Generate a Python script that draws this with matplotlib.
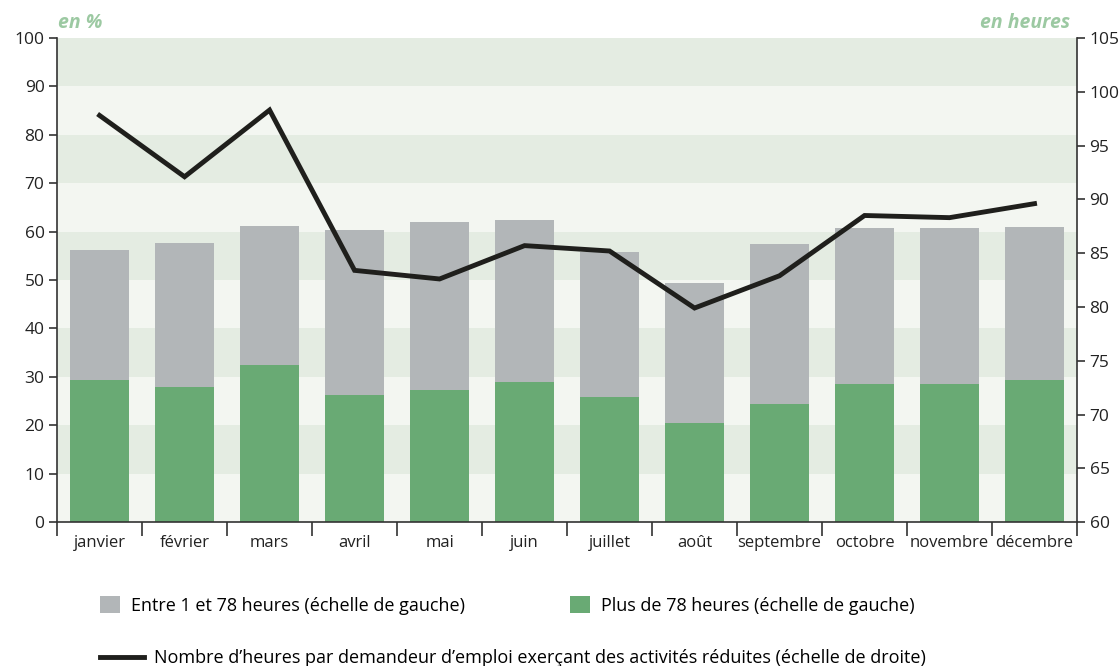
import matplotlib
matplotlib.use('Agg')
from matplotlib import pyplot as plt
from matplotlib.patches import Patch
from matplotlib.lines import Line2D
import numpy as np

plt.rcParams['font.family'] = ['Open Sans', 'DejaVu Sans']

# Data
mois = ['janvier', 'février', 'mars', 'avril', 'mai', 'juin', 'juillet',
        'août', 'septembre', 'octobre', 'novembre', 'décembre']
plus_78 = [29.3, 27.9, 32.4, 26.2, 27.3, 28.9, 25.8, 20.5, 24.4, 28.5, 28.5, 29.3]
total = [56.2, 57.6, 61.2, 60.3, 62.0, 62.4, 55.8, 49.4, 57.4, 60.7, 60.7, 61.0]
entre_1_78 = [t - p for t, p in zip(total, plus_78)]
heures = [97.8, 92.1, 98.3, 83.4, 82.6, 85.7, 85.2, 79.9, 82.9, 88.5, 88.3, 89.6]

green = '#69aa74'
grey = '#b2b6b8'
band_dark = '#e4ece2'
band_light = '#f3f6f1'
label_green = '#9cc9a2'

fig = plt.figure(figsize=(11.19, 6.66), dpi=100)
ax = fig.add_axes([0.051, 0.216, 0.9115, 0.727])
x = np.arange(len(mois))

# background bands
for i in range(10):
    ax.axhspan(i * 10, i * 10 + 10, color=band_dark if i % 2 else band_light,
               zorder=0, lw=0)

ax.bar(x, plus_78, width=0.69, color=green, zorder=2)
ax.bar(x, entre_1_78, width=0.69, bottom=plus_78, color=grey, zorder=2)

ax.set_xlim(-0.5, 11.5)
ax.set_ylim(0, 100)
ax.set_yticks(range(0, 101, 10))
ax.set_xticks(np.arange(-0.5, 12, 1))
ax.set_xticklabels([])
ax.set_xticks(x, minor=True)
ax.set_xticklabels(mois, minor=True)
ax.tick_params(axis='x', which='major', length=10, width=1.2, color='#333333')
ax.tick_params(axis='x', which='minor', length=0, pad=9, labelsize=12,
               labelcolor='#222222')
ax.tick_params(axis='y', length=6, width=1.2, color='#333333', labelsize=12.5,
               labelcolor='#222222', pad=3)
for s in ['top', 'right']:
    ax.spines[s].set_visible(False)
for s in ['left', 'bottom']:
    ax.spines[s].set_color('#333333')
    ax.spines[s].set_linewidth(1.2)

ax2 = ax.twinx()
ax2.plot(x, heures, color='#1f1f1c', lw=3.5, zorder=3, solid_joinstyle='miter')
ax2.set_ylim(60, 105)
ax2.set_yticks(range(60, 106, 5))
ax2.tick_params(axis='y', length=6, width=1.2, color='#333333', labelsize=12.5,
                labelcolor='#222222', pad=3)
for s in ['top', 'left', 'bottom']:
    ax2.spines[s].set_visible(False)
ax2.spines['right'].set_color('#333333')
ax2.spines['right'].set_linewidth(1.2)

fig.text(0.052, 0.966, 'en %', color=label_green, fontsize=14,
         fontweight='bold', style='italic', ha='left', va='center')
fig.text(0.956, 0.966, 'en heures', color=label_green, fontsize=14,
         fontweight='bold', style='italic', ha='right', va='center')

# legend, one entry at a time
h1 = Patch(facecolor=grey, edgecolor='none')
h2 = Patch(facecolor=green, edgecolor='none')
h3 = Line2D([], [], color='#1f1f1c', lw=3.5)
fig.legend([h1], ['Entre 1 et 78 heures (échelle de gauche)'],
           loc='center left', bbox_to_anchor=(0.075, 0.091), frameon=False,
           fontsize=13, handlelength=1.1, handleheight=1.1, handletextpad=0.6)
fig.legend([h2], ['Plus de 78 heures (échelle de gauche)'],
           loc='center left', bbox_to_anchor=(0.495, 0.091), frameon=False,
           fontsize=13, handlelength=1.1, handleheight=1.1, handletextpad=0.6)
fig.legend([h3], ["Nombre d’heures par demandeur d’emploi exerçant des activités réduites (échelle de droite)"],
           loc='center left', bbox_to_anchor=(0.075, 0.012), frameon=False,
           fontsize=13, handlelength=2.4, handletextpad=0.6)

fig.savefig('out.png', dpi=100)
